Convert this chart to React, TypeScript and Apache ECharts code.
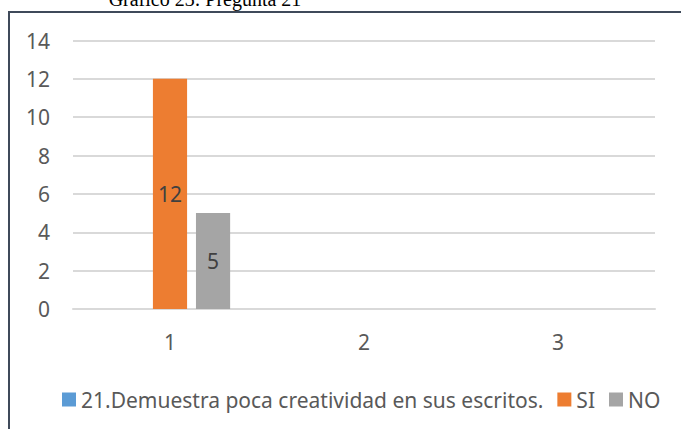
import React, { useEffect, useRef } from "react";
import * as echarts from "echarts";

const categories = ["1", "2", "3"];
const seriesNames = ["21.Demuestra poca creatividad en sus escritos.", "SI", "NO"];
const serieQuestion: (number | null)[] = [null, null, null];
const serieSi: (number | null)[] = [12, null, null];
const serieNo: (number | null)[] = [5, null, null];
const colors = ["#5B9BD5", "#ED7D31", "#A5A5A5"];
const titleText = "Gráfico 23: Pregunta 21";

const FONT = "Noto Sans";
const FS = 21;

export default function App() {
  const ref = useRef<HTMLDivElement>(null);
  useEffect(() => {
    if (!ref.current) return;
    const chart = echarts.init(ref.current, null, { renderer: "svg" });
    const label = {
      show: true,
      position: "inside",
      color: "#404040",
      fontSize: FS,
      fontFamily: FONT,
    };
    chart.setOption({
      animation: false,
      backgroundColor: "#ffffff",
      color: colors,
      grid: { left: 73, right: 26, top: 40.5, bottom: 120, containLabel: false },
      legend: {
        left: 57,
        top: 384,
        itemWidth: 14,
        itemHeight: 14,
        itemGap: 14,
        icon: "rect",
        textStyle: { color: "#595959", fontSize: FS, fontFamily: FONT },
        data: seriesNames,
      },
      xAxis: {
        type: "category",
        data: categories,
        axisLine: { show: true, lineStyle: { color: "#D9D9D9", width: 2 } },
        axisTick: { show: false },
        axisLabel: { color: "#595959", fontSize: FS, fontFamily: FONT, margin: 22 },
      },
      yAxis: {
        type: "value",
        min: 0,
        max: 14,
        interval: 2,
        axisLine: { show: false },
        axisTick: { show: false },
        splitLine: { lineStyle: { color: "#D9D9D9", width: 2 } },
        axisLabel: { color: "#595959", fontSize: FS, fontFamily: FONT, margin: 23 },
      },
      series: [
        { name: seriesNames[0], type: "bar", data: serieQuestion, barGap: "26%", barCategoryGap: "38%", label },
        { name: seriesNames[1], type: "bar", data: serieSi, barGap: "26%", barCategoryGap: "38%", label },
        { name: seriesNames[2], type: "bar", data: serieNo, barGap: "26%", barCategoryGap: "38%", label },
      ],
      graphic: [
        {
          type: "polyline",
          shape: { points: [[681, 12], [9, 12], [9, 429]] },
          style: { stroke: "#3F4A5A", lineWidth: 2, fill: "none" },
          z: 100,
        },
        {
          type: "text",
          x: 205,
          y: 9,
          style: {
            text: titleText,
            fontFamily: "Liberation Serif",
            fontSize: 20,
            fill: "#000000",
            align: "center",
            verticalAlign: "bottom",
          },
          z: 100,
        },
      ],
    });
    return () => chart.dispose();
  }, []);
  return (
    <div
      ref={ref}
      style={{ position: "fixed", left: 0, top: 0, width: 681, height: 429 }}
    />
  );
}
